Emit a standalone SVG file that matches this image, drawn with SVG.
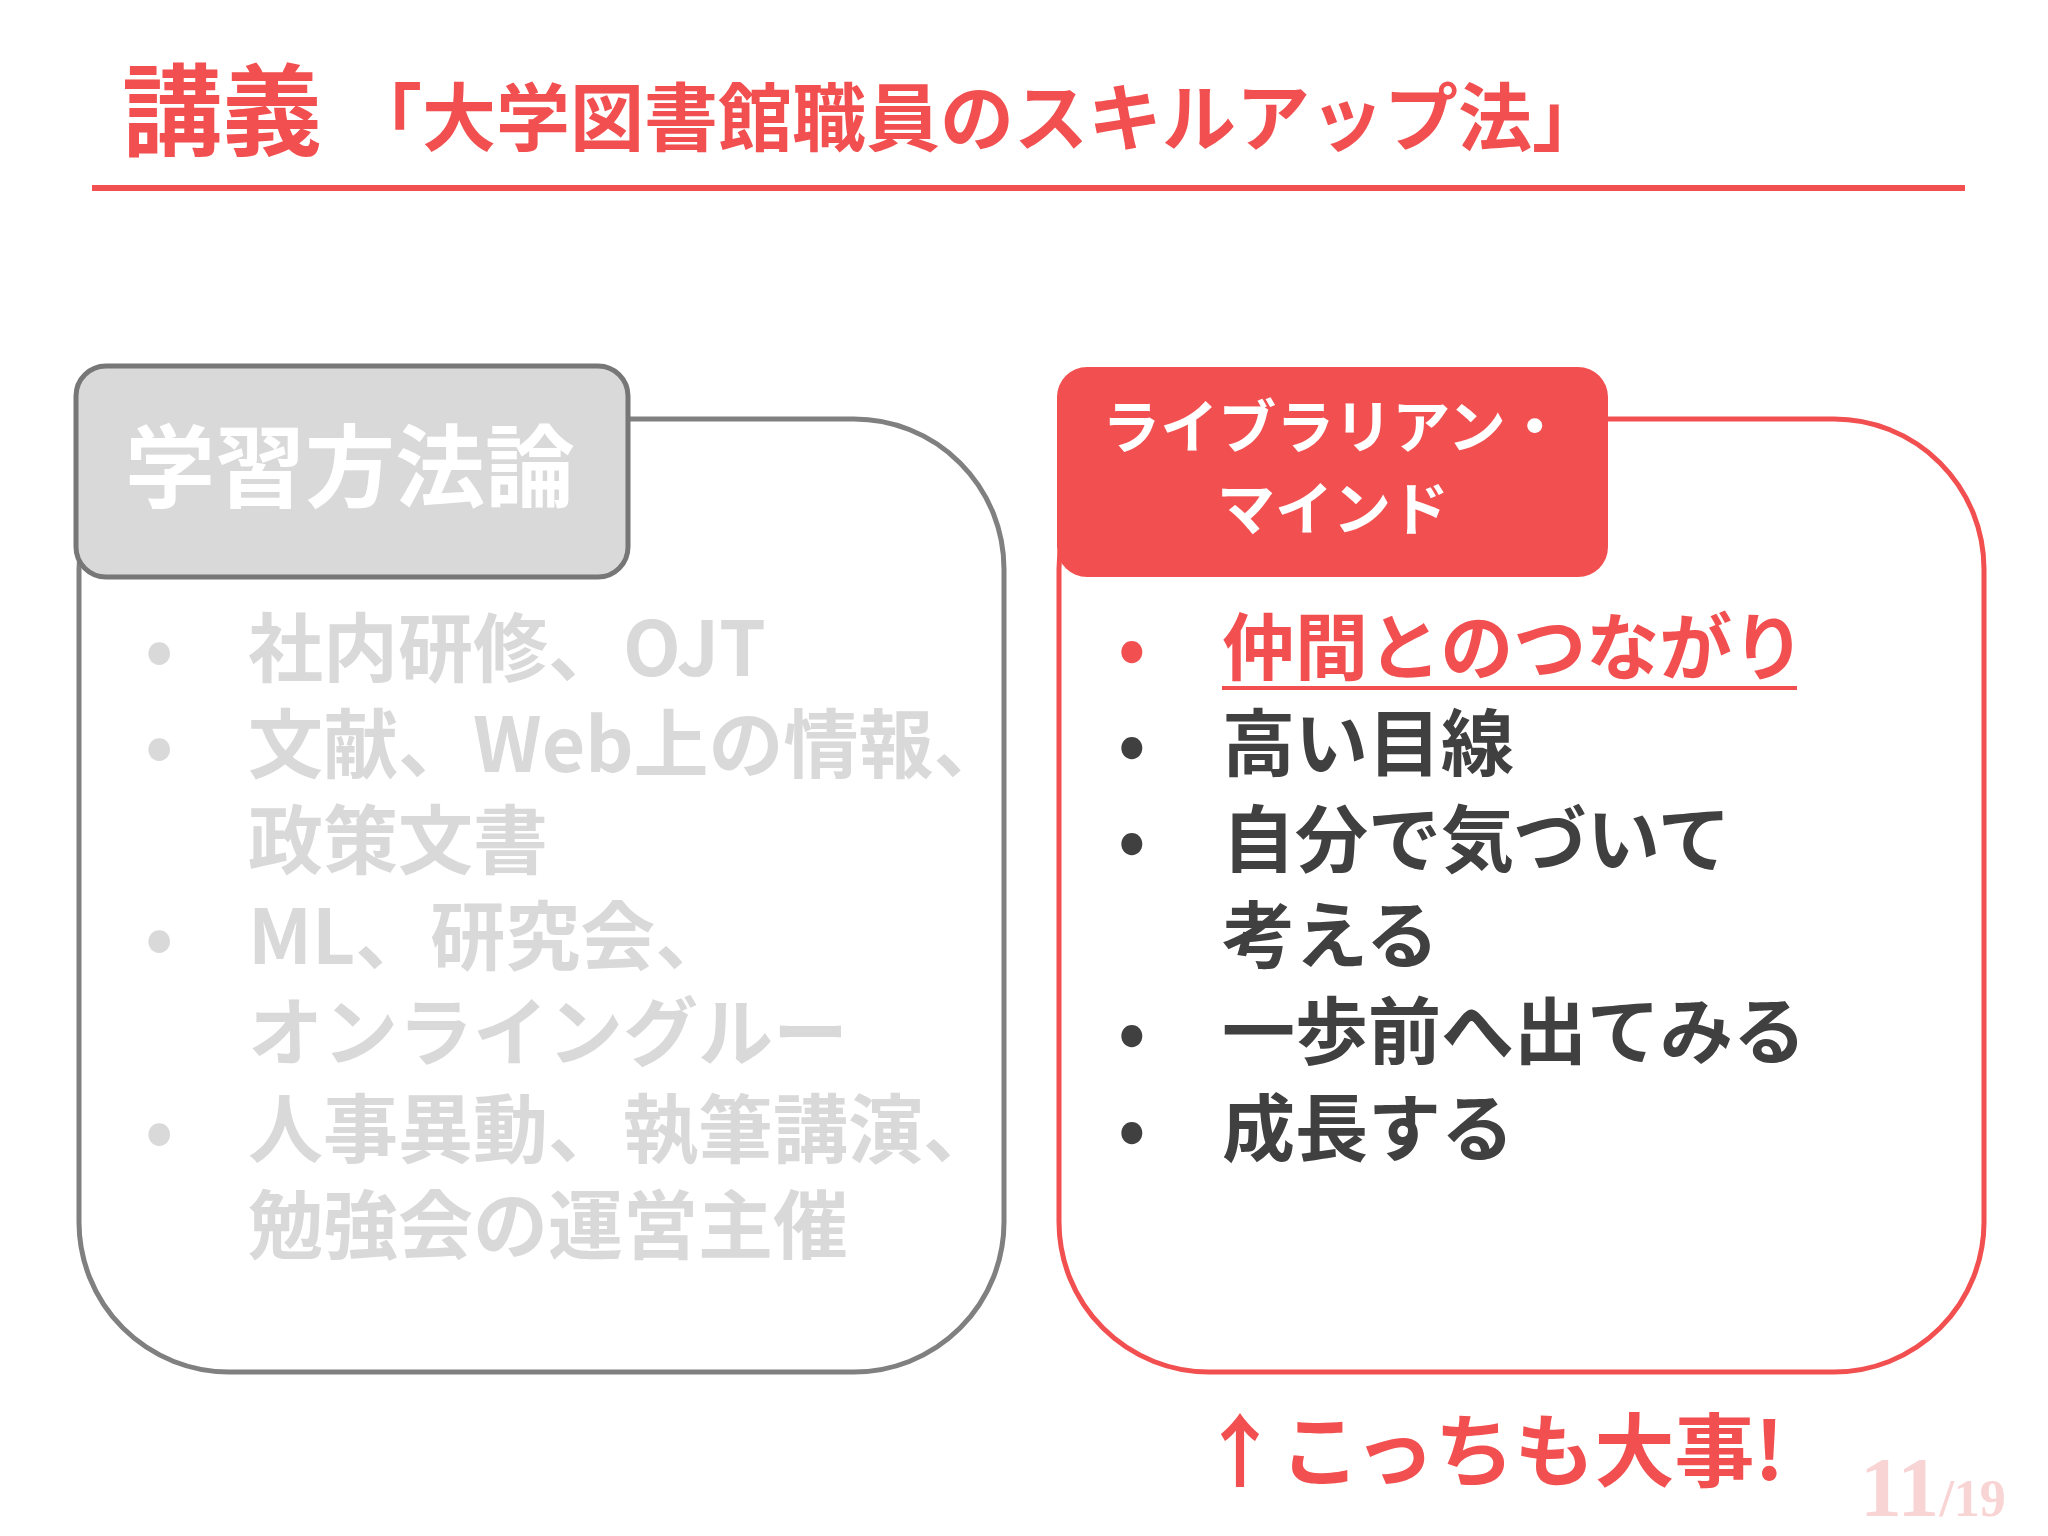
<svg xmlns="http://www.w3.org/2000/svg" width="2048" height="1536" viewBox="0 0 2048 1536">
<style>
text{font-family:"Noto Sans CJK JP","Noto Sans",sans-serif;font-weight:bold}
.g{fill:#d9d9d9;font-size:75px}
.d{fill:#404040;font-size:73px}
.b{font-size:73px}
</style>
<rect width="2048" height="1536" fill="#fff"/>
<g id="title">
<text x="122" y="148" font-size="100" fill="#f25050">講義</text>
<text x="348" y="145" font-size="74" fill="#f25050">「大学図書館職員のスキルアップ法」</text>
<line x1="92" y1="188" x2="1965" y2="188" stroke="#f25050" stroke-width="6"/>
</g>
<g id="left">
<rect x="79" y="419" width="925" height="953" rx="150" fill="none" stroke="#808080" stroke-width="5"/>
<rect x="76" y="366" width="552" height="211" rx="30" fill="#d9d9d9" stroke="#777" stroke-width="5"/>
<text x="125" y="500" font-size="90" fill="#fff">学習方法論</text>
<g class="g">
<text x="145" y="676">•</text><text x="248" y="676">社内研修、OJT</text>
<text x="145" y="772">•</text><text x="248" y="772">文献、Web上の情報、</text>
<text x="248" y="868">政策文書</text>
<text x="145" y="964">•</text><text x="248" y="964">ML、研究会、</text>
<text x="248" y="1060">オンライングルー</text>
<text x="145" y="1157">•</text><text x="248" y="1157">人事異動、執筆講演、</text>
<text x="248" y="1253">勉強会の運営主催</text>
</g>
</g>
<g id="right">
<rect x="1059" y="419" width="925" height="953" rx="150" fill="none" stroke="#f25050" stroke-width="5"/>
<rect x="1057" y="367" width="551" height="210" rx="30" fill="#f25050"/>
<text x="1333" y="448" font-size="58" fill="#fff" text-anchor="middle">ライブラリアン・</text>
<text x="1333" y="530" font-size="58" fill="#fff" text-anchor="middle">マインド</text>
<text x="1118" y="674" class="b" fill="#f25050">•</text><text x="1222" y="674" class="b" fill="#f25050">仲間とのつながり</text>
<line x1="1222" y1="688" x2="1797" y2="688" stroke="#f25050" stroke-width="4"/>
<g class="d">
<text x="1118" y="770">•</text><text x="1222" y="770">高い目線</text>
<text x="1118" y="866">•</text><text x="1222" y="866">自分で気づいて</text>
<text x="1222" y="962">考える</text>
<text x="1118" y="1058">•</text><text x="1222" y="1058">一歩前へ出てみる</text>
<text x="1118" y="1155">•</text><text x="1222" y="1155">成長する</text>
</g>
</g>
<g id="note">
<text x="1200" y="1480" font-size="80" fill="#f25050">↑こっちも大事!</text>
<text x="1860" y="1516" fill="#f8d4d4"><tspan font-size="84" font-family="Liberation Serif,serif">11</tspan><tspan font-size="52" font-family="Liberation Serif,serif">/19</tspan></text>
</g>
</svg>
